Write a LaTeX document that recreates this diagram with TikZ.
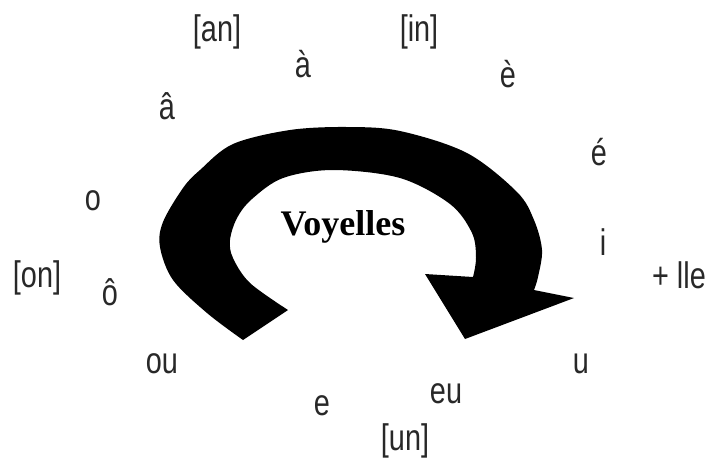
\documentclass[tikz,border=0pt]{standalone}
\usepackage{fontspec}
\usepackage{tikz}
\usetikzlibrary{calc}
\newfontfamily\sonfont[FakeStretch=0.78]{Liberation Sans}
\newfontfamily\titrefont{Liberation Serif}
\definecolor{sonGray}{RGB}{40, 40, 40}
\tikzset{
  son/.style={font=\sonfont\fontsize{37}{37}\selectfont, text=sonGray, anchor=base, inner sep=0pt},
  titre/.style={font=\titrefont\bfseries\fontsize{36}{36}\selectfont, anchor=base, inner sep=0pt}
}

\begin{document}
\begin{tikzpicture}[x=1pt, y=-1pt]
  \useasboundingbox (0,0) rectangle (709,459);
  % big curved arrow
  \fill[black] plot[smooth, tension=0.55] coordinates {(243,340) (207,313) (173,280) (160,247) (163,222) (183,188) (200,170) (233,144) (290,130) (347,127) (400,131) (467,153) (517,192) (534,220) (542,250) (538,277) (534,290)}
    -- (574,298) -- (465,339) -- (425,274) -- (473,277)
    -- plot[smooth, tension=0.55] coordinates {(473,277) (476,258) (472,233) (450,204) (400,178) (333,170) (283,178) (252,199) (237,218) (230,240) (233,258) (250,283) (288,310)}
    -- cycle;
  \node[titre] (voy) at (343,235) {Voyelles};
  % sons
  \node[son] (an) at (217,41) {[an]};
  \node[son] (in) at (419,41) {[in]};
  \node[son] (agrave) at (303,77) {à};
  \node[son] (egrave) at (508,87) {è};
  \node[son] (acirc) at (167,119) {â};
  \node[son] (eaigu) at (599,165) {é};
  \node[son] (o) at (93,210) {o};
  \node[son] (i) at (603,255) {i};
  \node[son] (on) at (37,287) {[on]};
  \node[son] (ocirc) at (110,305) {ô};
  \node[son] (lle) at (679,288) {+ lle};
  \node[son] (ou) at (162,373) {ou};
  \node[son] (u) at (581,373) {u};
  \node[son] (e) at (322,415) {e};
  \node[son] (eu) at (446,403) {eu};
  \node[son] (un) at (405,450) {[un]};
\end{tikzpicture}
\end{document}
